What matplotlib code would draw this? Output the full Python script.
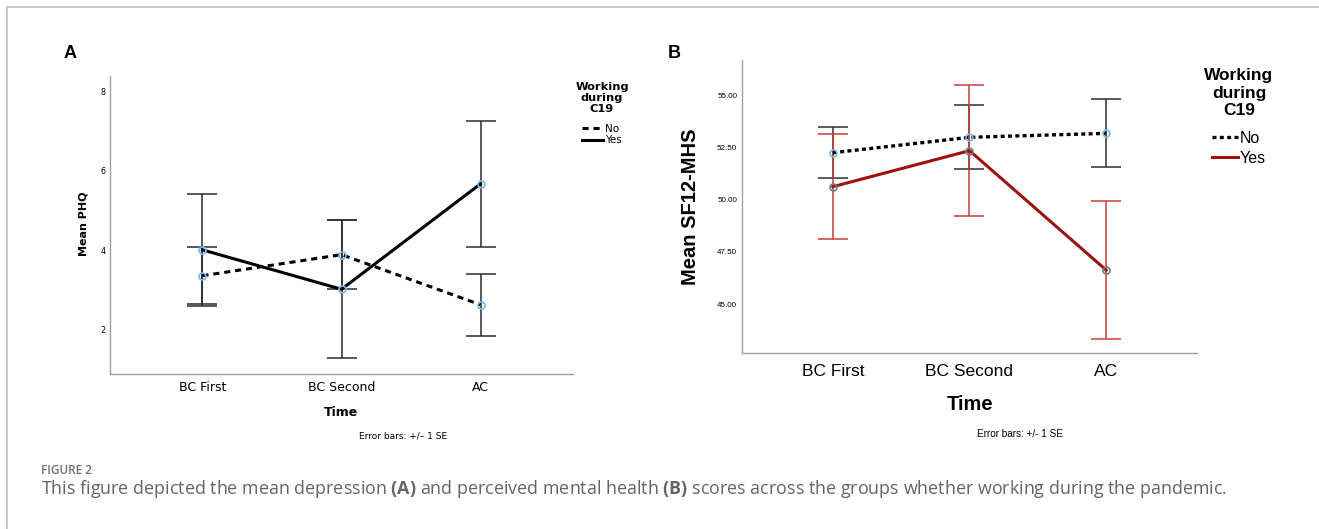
import matplotlib
matplotlib.use("Agg")
import matplotlib.pyplot as plt
from matplotlib.lines import Line2D

plt.rcParams["mathtext.fontset"] = "custom"
plt.rcParams["mathtext.rm"] = "Open Sans"
plt.rcParams["mathtext.bf"] = "Open Sans:bold"

W, H = 1319, 529

# data
times = ["BC First", "BC Second", "AC"]
groups = ["No", "Yes"]

phq_no = [3.36, 3.89, 2.63]
phq_no_se = [0.72, 0.87, 0.78]
phq_yes = [4.01, 3.02, 5.67]
phq_yes_se = [1.41, 1.73, 1.58]

mhs_no = [52.26, 53.00, 53.19]
mhs_no_se = [1.23, 1.54, 1.63]
mhs_yes = [50.63, 52.36, 46.63]
mhs_yes_se = [2.52, 3.13, 3.30]

phq_ticks = [2, 4, 6, 8]
mhs_ticks = [45.0, 47.5, 50.0, 52.5, 55.0]


def fx(px):
    return px / W


def fy(py):
    return 1 - py / H


def rect(left, top, right, bottom):
    return [fx(left), fy(bottom), (right - left) / W, (bottom - top) / H]


fig = plt.figure(figsize=(W / 100, H / 100), dpi=100)
fig.patch.set_facecolor("white")

# thin frame round the figure (top and left)
fig.add_artist(Line2D([fx(6.5), 1.0], [fy(6.5), fy(6.5)], color="#c4c4c4", lw=1.3))
fig.add_artist(Line2D([fx(6.5), fx(6.5)], [fy(6.5), 0.0], color="#c4c4c4", lw=1.3))

x = [1, 2, 3]
light_blue = "#79b8e6"


def style_axes(ax, ylim, ticks, fmt, tick_fs, font, xfs, xpad, ypad):
    ax.set_xlim(1 - 0.665, 3 + 0.665)
    ax.set_ylim(*ylim)
    ax.set_yticks(ticks)
    ax.set_yticklabels([fmt.format(t) for t in ticks], fontsize=tick_fs, family=font)
    ax.set_xticks(x)
    ax.set_xticklabels(times, fontsize=xfs, family=font)
    ax.tick_params(axis="both", length=0)
    ax.tick_params(axis="x", pad=xpad)
    ax.tick_params(axis="y", pad=ypad)
    for s in ["top", "right"]:
        ax.spines[s].set_visible(False)
    for s in ["left", "bottom"]:
        ax.spines[s].set_color("#a0a0a0")
        ax.spines[s].set_linewidth(1.0)


def legend(ax, handles, anchor, font, size, title_size, hl, lspace, tspace, title_sep):
    leg = ax.legend(handles=handles, title="Working\nduring\nC19",
                    loc="upper center", bbox_to_anchor=anchor,
                    bbox_transform=fig.transFigure, frameon=False,
                    handlelength=hl, handletextpad=0.15,
                    labelspacing=lspace, borderpad=0, borderaxespad=0,
                    prop={"family": font, "size": size},
                    title_fontproperties={"family": font, "size": title_size,
                                          "weight": "bold"})
    leg._legend_box.align = "center"
    leg._legend_box.sep = title_sep
    leg.get_title().set_multialignment("center")
    leg.get_title().set_linespacing(tspace)
    return leg


# ---------------- panel A ----------------
axA = fig.add_axes(rect(110, 76, 573, 374))
style_axes(axA, (0.89, 8.38), phq_ticks, "{:d}", 5.8, "DejaVu Sans", 9, 5, 3)

for m, se in [(phq_no, phq_no_se), (phq_yes, phq_yes_se)]:
    axA.errorbar(x, m, yerr=se, fmt="none", ecolor="#2b2b2b", elinewidth=1.1,
                 capsize=11, capthick=1.1, zorder=2)
lA_no, = axA.plot(x, phq_no, color="black", lw=2.2, ls=(0, (2, 1.6)), label="No", zorder=3)
lA_yes, = axA.plot(x, phq_yes, color="black", lw=2.2, label="Yes", zorder=3)
axA.plot(x, phq_no, "o", ms=5, mfc="none", mec=light_blue, mew=1.2, zorder=4)
axA.plot(x, phq_yes, "o", ms=5, mfc="none", mec=light_blue, mew=1.2, zorder=4)

fig.text(fx(84), fy(224), "Mean PHQ", rotation=90, ha="center", va="center",
         fontsize=8, fontweight="bold", family="DejaVu Sans")
fig.text(fx(341), fy(412), "Time", ha="center", va="center",
         fontsize=9, fontweight="bold", family="DejaVu Sans")
fig.text(fx(403), fy(436), "Error bars: +/\u2013 1 SE", ha="center", va="center",
         fontsize=6.5, family="DejaVu Sans")
fig.text(fx(70), fy(54), "A", ha="center", va="center",
         fontsize=13, fontweight="bold", family="Liberation Sans")

legend(axA, [lA_no, lA_yes], (fx(602), fy(82)), "DejaVu Sans", 7.5, 8.2,
       2.0, 0.15, 1.12, 7)

# ---------------- panel B ----------------
axB = fig.add_axes(rect(742, 60, 1197, 353))
style_axes(axB, (42.65, 56.71), mhs_ticks, "{:.2f}", 5.8, "Liberation Sans", 12.5, 8, 3.5)

axB.errorbar(x, mhs_no, yerr=mhs_no_se, fmt="none", ecolor="#2e2e2e", elinewidth=1.1,
             capsize=11, capthick=1.1, zorder=2)
axB.errorbar(x, mhs_yes, yerr=mhs_yes_se, fmt="none", ecolor="#cc3a3a", elinewidth=1.1,
             capsize=11, capthick=1.1, zorder=2)
lB_no, = axB.plot(x, mhs_no, color="black", lw=2.4, ls=(0, (1.2, 1.0)), label="No", zorder=3)
lB_yes, = axB.plot(x, mhs_yes, color="#9e1111", lw=2.2, label="Yes", zorder=3)
axB.plot(x, mhs_no, "o", ms=5, mfc="none", mec=light_blue, mew=1.2, zorder=4)
axB.plot(x, mhs_yes, "o", ms=5, mfc="none", mec="#6f8080", mew=1.2, zorder=4)

fig.text(fx(690), fy(207), "Mean SF12-MHS", rotation=90, ha="center", va="center",
         fontsize=14.5, fontweight="bold", family="Liberation Sans")
fig.text(fx(970), fy(405), "Time", ha="center", va="center",
         fontsize=14.5, fontweight="bold", family="Liberation Sans")
fig.text(fx(1020), fy(434), "Error bars: +/- 1 SE", ha="center", va="center",
         fontsize=7.2, family="Liberation Sans")
fig.text(fx(674), fy(53), "B", ha="center", va="center",
         fontsize=13, fontweight="bold", family="Liberation Sans")

legend(axB, [lB_no, lB_yes], (fx(1239), fy(68)), "Liberation Sans", 11.5, 12.5,
       1.6, 0.33, 1.22, 9)

# ---------------- caption ----------------
fig.text(fx(41), fy(471), "FIGURE 2", ha="left", va="center",
         fontsize=8.5, fontweight="semibold", color="#6e6e6e", family="Open Sans")
fig.text(fx(41), fy(489),
         "This figure depicted the mean depression $\\bf{(A)}$ and perceived mental health "
         "$\\bf{(B)}$ scores across the groups whether working during the pandemic.",
         ha="left", va="center", fontsize=12.9, color="#646464", family="Open Sans")

fig.savefig("out.png", dpi=100)
